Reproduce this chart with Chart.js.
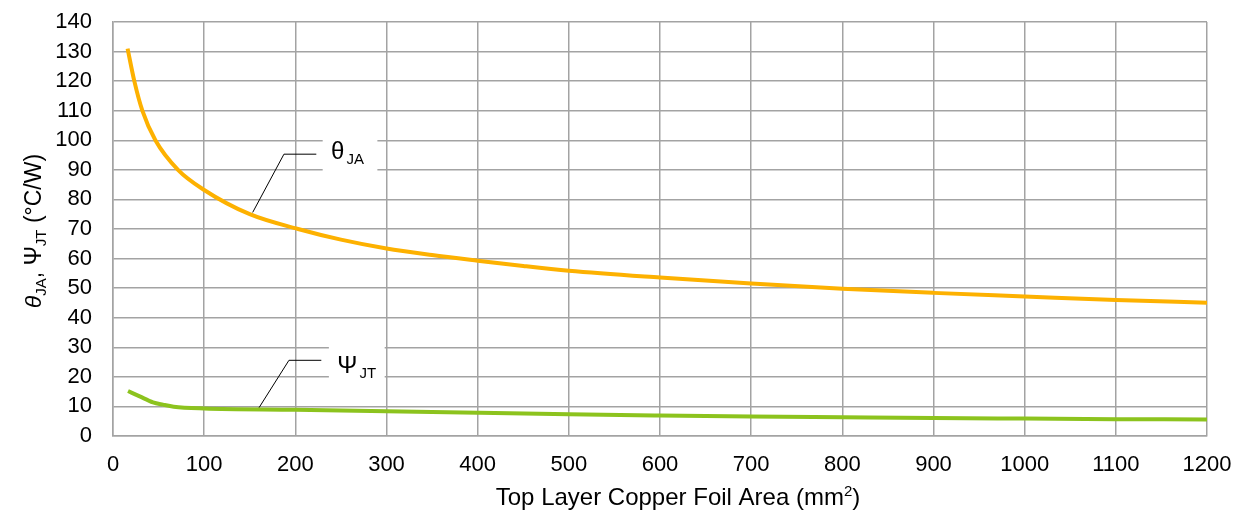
<!DOCTYPE html>
<html>
<head>
<meta charset="utf-8">
<script src="https://cdn.jsdelivr.net/npm/chart.js@4/dist/chart.umd.min.js"></script>
<style>
  body { margin: 0; background: #fff; }
  #wrap { width: 1237px; height: 511px; }
</style>
</head>
<body>
<div id="wrap"><canvas id="chart" width="1237" height="511"></canvas></div>
<script>
// valores (área de cobre em mm², resistência térmica em °C/W)
const thetaArea = [16, 23.4, 32.2, 46.5, 71.3, 100, 150, 203, 250, 300, 350, 400, 450, 500, 600, 700, 800, 900, 1000, 1100, 1200];
const thetaJA   = [131, 120, 110, 100, 90, 83.2, 75.0, 70, 66.4, 63.4, 61.2, 59.3, 57.5, 55.9, 53.6, 51.6, 49.8, 48.4, 47.2, 46.0, 45.1];

const psiArea = [16.5, 29.3, 43.9, 54.8, 66.6, 100, 200, 300, 400, 500, 600, 700, 800, 900, 1000, 1100, 1200];
const psiJT   = [15.2, 13.4, 11.4, 10.6, 9.9, 9.3, 8.9, 8.4, 7.85, 7.35, 6.95, 6.6, 6.35, 6.1, 5.9, 5.7, 5.6];

const xTicks = [0, 100, 200, 300, 400, 500, 600, 700, 800, 900, 1000, 1100, 1200];
const yTicks = [0, 10, 20, 30, 40, 50, 60, 70, 80, 90, 100, 110, 120, 130, 140];

const FONT = '"Liberation Sans", Arial, sans-serif';
const GRID = '#a3a3a3';

// rótulos com linha de chamada (em coordenadas de dados)
const callouts = [
    { main: 'θ', sub: 'JA', text: [239.2, 93.6], box: [230, 290, 103, 86],
      leader: [[153.2, 75.6], [187.5, 95.3], [223, 95.3]] },
    { main: 'Ψ', sub: 'JT', text: [246.1, 21.4], box: [236.8, 298, 33, 16],
      leader: [[159, 9.0], [193, 25.6], [228.5, 25.6]] }
];

function toPoints(xs, ys) {
    return xs.map((x, i) => ({ x: x, y: ys[i] }));
}

const calloutPlugin = {
    id: 'callouts',
    beforeDatasetsDraw(chart) {
        const ctx = chart.ctx;
        const sx = chart.scales.x, sy = chart.scales.y;
        ctx.save();
        callouts.forEach(c => {
            const x0 = sx.getPixelForValue(c.box[0]), x1 = sx.getPixelForValue(c.box[1]);
            const y0 = sy.getPixelForValue(c.box[2]), y1 = sy.getPixelForValue(c.box[3]);
            ctx.fillStyle = '#fff';
            ctx.fillRect(x0, y0, x1 - x0, y1 - y0);

            ctx.strokeStyle = '#000';
            ctx.lineWidth = 1;
            ctx.beginPath();
            c.leader.forEach((p, i) => {
                const px = sx.getPixelForValue(p[0]), py = sy.getPixelForValue(p[1]);
                if (i === 0) ctx.moveTo(px, py); else ctx.lineTo(px, py);
            });
            ctx.stroke();

            const tx = sx.getPixelForValue(c.text[0]), ty = sy.getPixelForValue(c.text[1]);
            ctx.fillStyle = '#000';
            ctx.textBaseline = 'alphabetic';
            ctx.textAlign = 'left';
            ctx.font = '24px ' + FONT;
            ctx.fillText(c.main, tx, ty);
            const w = ctx.measureText(c.main).width;
            ctx.font = '15px ' + FONT;
            ctx.fillText(c.sub, tx + w + 2, ty + 5);
        });
        ctx.restore();
    }
};

const axisTitlePlugin = {
    id: 'axisTitles',
    afterDraw(chart) {
        const ctx = chart.ctx;
        ctx.save();
        ctx.fillStyle = '#000';
        ctx.textBaseline = 'alphabetic';
        ctx.textAlign = 'left';

        // título do eixo x com expoente
        const xParts = [
            { t: 'Top Layer Copper Foil Area (mm', f: '24px ' + FONT, dy: 0 },
            { t: '2', f: '15px ' + FONT, dy: -9 },
            { t: ')', f: '24px ' + FONT, dy: 0 }
        ];
        drawParts(ctx, xParts, 678, 505);

        // título do eixo y, girado
        const yParts = [
            { t: 'θ', f: 'italic 23px ' + FONT, dy: 0 },
            { t: 'JA', f: '15px ' + FONT, dy: 5 },
            { t: ', ', f: '23px ' + FONT, dy: 0 },
            { t: 'Ψ', f: '23px ' + FONT, dy: 0 },
            { t: 'JT', f: '15px ' + FONT, dy: 5 },
            { t: ' (°C/W)', f: '23px ' + FONT, dy: 0 }
        ];
        ctx.translate(41, 231);
        ctx.rotate(-Math.PI / 2);
        drawParts(ctx, yParts, 0, 0);
        ctx.restore();
    }
};

function drawParts(ctx, parts, cx, baseY) {
    let total = 0;
    parts.forEach(p => { ctx.font = p.f; p.w = ctx.measureText(p.t).width; total += p.w; });
    let x = cx - total / 2;
    parts.forEach(p => {
        ctx.font = p.f;
        ctx.fillText(p.t, x, baseY + p.dy);
        x += p.w;
    });
}

new Chart(document.getElementById('chart'), {
    type: 'scatter',
    data: {
        datasets: [
            {
                label: 'θJA',
                data: toPoints(thetaArea, thetaJA),
                showLine: true,
                borderColor: '#FDB100',
                borderWidth: 4,
                pointRadius: 0,
                cubicInterpolationMode: 'monotone'
            },
            {
                label: 'ΨJT',
                data: toPoints(psiArea, psiJT),
                showLine: true,
                borderColor: '#8CC31E',
                borderWidth: 4,
                pointRadius: 0,
                cubicInterpolationMode: 'monotone'
            }
        ]
    },
    options: {
        responsive: false,
        animation: false,
        layout: { padding: { top: 22, right: 30, left: 0, bottom: 0 } },
        plugins: {
            legend: { display: false },
            tooltip: { enabled: false }
        },
        scales: {
            x: {
                type: 'linear',
                min: 0,
                max: 1200,
                afterBuildTicks: s => { s.ticks = xTicks.map(v => ({ value: v })); },
                afterFit: s => { s.height = 75; s.paddingLeft = 0; s.paddingRight = 0; },
                grid: { color: GRID, lineWidth: 1.5, drawTicks: false },
                border: { color: GRID, width: 1.5 },
                ticks: {
                    color: '#000', font: { size: 22, family: FONT }, padding: 16,
                    maxRotation: 0, autoSkip: false, callback: v => String(v)
                }
            },
            y: {
                min: 0,
                max: 140,
                afterBuildTicks: s => { s.ticks = yTicks.map(v => ({ value: v })); },
                afterFit: s => { s.width = 113; s.paddingTop = 0; s.paddingBottom = 0; },
                grid: { color: GRID, lineWidth: 1.5, drawTicks: false },
                border: { color: GRID, width: 1.5 },
                ticks: {
                    color: '#000', font: { size: 22, family: FONT }, padding: 21,
                    autoSkip: false, callback: v => String(v)
                }
            }
        }
    },
    plugins: [calloutPlugin, axisTitlePlugin]
});
</script>
</body>
</html>
